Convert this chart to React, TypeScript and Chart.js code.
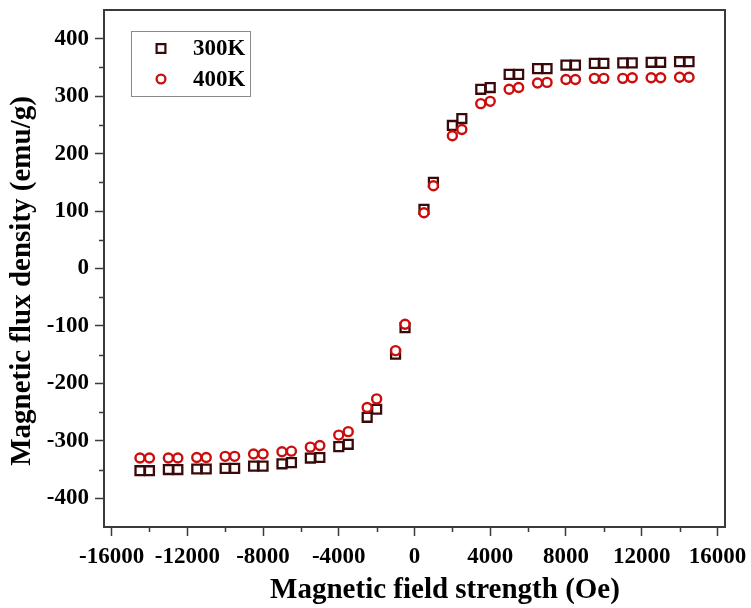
import React, { useEffect, useRef } from "react";
import { Chart, registerables } from "chart.js";

Chart.register(...registerables);

const fieldOe = [
  -14500, -14000, -13000, -12500, -11500, -11000, -10000, -9500, -8500, -8000,
  -7000, -6500, -5500, -5000, -4000, -3500, -2500, -2000, -1000, -500,
  500, 1000, 2000, 2500, 3500, 4000, 5000, 5500, 6500, 7000,
  8000, 8500, 9500, 10000, 11000, 11500, 12500, 13000, 14000, 14500,
];

const flux300K = [
  -352, -352, -350, -350, -349, -349, -348, -348, -344, -344,
  -340, -338, -330, -329, -310, -306, -259, -245, -149, -103,
  103, 150, 249, 261, 312, 315, 338, 338, 348, 348,
  354, 354, 357, 357, 358, 358, 359, 359, 360, 360,
];

const flux400K = [
  -330, -330, -330, -330, -329, -329, -327, -327, -323, -323,
  -319, -318, -311, -308, -290, -284, -242, -227, -143, -97,
  97, 144, 231, 242, 287, 291, 312, 315, 323, 324,
  329, 329, 331, 331, 331, 332, 332, 332, 333, 333,
];

const seriesLabels = ["300K", "400K"];
const xTitle = "Magnetic field strength (Oe)";
const yTitle = "Magnetic flux density (emu/g)";
const xMajorTicks = [-16000, -12000, -8000, -4000, 0, 4000, 8000, 12000, 16000];
const xMinorTicks = [-14000, -10000, -6000, -2000, 2000, 6000, 10000, 14000];
const yMajorTicks = [-400, -300, -200, -100, 0, 100, 200, 300, 400];
const yMinorTicks = [-350, -250, -150, -50, 50, 150, 250, 350];

const SERIF = "'Liberation Serif', 'Times New Roman', serif";
const SQUARE_COLOR = "#3a0a0a";
const CIRCLE_COLOR = "#cc0d0d";
const AXIS_COLOR = "#3a3a3a";

const extrasPlugin = {
  id: "extras",
  afterDraw(chart: any) {
    const { ctx, chartArea } = chart;
    const xs = chart.scales.x;
    const ys = chart.scales.y;
    ctx.save();
    // top/right frame
    ctx.strokeStyle = AXIS_COLOR;
    ctx.lineWidth = 2;
    ctx.beginPath();
    ctx.moveTo(chartArea.left, chartArea.top);
    ctx.lineTo(chartArea.right, chartArea.top);
    ctx.lineTo(chartArea.right, chartArea.bottom);
    ctx.stroke();
    // minor ticks
    ctx.lineWidth = 1.5;
    ctx.beginPath();
    xMinorTicks.forEach((v) => {
      const px = Math.round(xs.getPixelForValue(v)) + 0.5;
      ctx.moveTo(px, chartArea.bottom);
      ctx.lineTo(px, chartArea.bottom + 5);
    });
    yMinorTicks.forEach((v) => {
      const py = Math.round(ys.getPixelForValue(v)) + 0.5;
      ctx.moveTo(chartArea.left, py);
      ctx.lineTo(chartArea.left - 5, py);
    });
    ctx.stroke();

    // axis titles
    ctx.fillStyle = "#000000";
    ctx.font = `bold 29px ${SERIF}`;
    ctx.textAlign = "center";
    ctx.textBaseline = "middle";
    ctx.fillText(xTitle, 445, 591);
    ctx.save();
    ctx.translate(23, 281);
    ctx.rotate(-Math.PI / 2);
    ctx.fillText(yTitle, 0, 0);
    ctx.restore();

    // legend box
    const x0 = chartArea.left + 27;
    const y0 = chartArea.top + 21;
    const w = 119;
    const h = 65;
    ctx.strokeStyle = "#8a8a8a";
    ctx.lineWidth = 1;
    ctx.strokeRect(x0 + 0.5, y0 + 0.5, w, h);
    const mx = x0 + 30;
    const rows = [y0 + 17.5, y0 + 48];
    ctx.lineWidth = 2.2;
    ctx.strokeStyle = SQUARE_COLOR;
    ctx.fillStyle = "#ffffff";
    const s = 4.4;
    ctx.beginPath();
    ctx.rect(mx - s, rows[0] - s, 2 * s, 2 * s);
    ctx.fill();
    ctx.stroke();
    ctx.strokeStyle = CIRCLE_COLOR;
    ctx.lineWidth = 2.3;
    ctx.beginPath();
    ctx.arc(mx, rows[1], 4.4, 0, Math.PI * 2);
    ctx.fill();
    ctx.stroke();
    ctx.fillStyle = "#000000";
    ctx.font = `bold 23px ${SERIF}`;
    ctx.textBaseline = "middle";
    ctx.textAlign = "left";
    ctx.fillText(seriesLabels[0], x0 + 62, rows[0] + 1);
    ctx.fillText(seriesLabels[1], x0 + 62, rows[1] + 1);
    ctx.restore();
  },
};

export default function App() {
  const canvasRef = useRef<HTMLCanvasElement | null>(null);

  useEffect(() => {
    document.body.style.margin = "0";
    const canvas = canvasRef.current;
    if (!canvas) return;
    const chart = new Chart(canvas, {
      type: "scatter",
      data: {
        datasets: [
          {
            label: seriesLabels[0],
            data: fieldOe.map((x, i) => ({ x, y: flux300K[i] })),
            pointStyle: "rect",
            pointRadius: 6.3,
            pointHoverRadius: 6.3,
            borderColor: SQUARE_COLOR,
            backgroundColor: "#ffffff",
            borderWidth: 2.3,
            order: 1,
          },
          {
            label: seriesLabels[1],
            data: fieldOe.map((x, i) => ({ x, y: flux400K[i] })),
            pointStyle: "circle",
            pointRadius: 4.5,
            pointHoverRadius: 4.5,
            borderColor: CIRCLE_COLOR,
            backgroundColor: "#ffffff",
            borderWidth: 2.4,
            order: 0,
          },
        ],
      },
      options: {
        animation: false,
        responsive: true,
        maintainAspectRatio: false,
        events: [],
        layout: { padding: { top: 10, right: 26, left: 0, bottom: 0 } },
        plugins: {
          legend: { display: false },
          tooltip: { enabled: false },
        },
        scales: {
          x: {
            type: "linear",
            min: -16400,
            max: 16400,
            afterBuildTicks: (scale: any) => {
              scale.ticks = xMajorTicks.map((v) => ({ value: v }));
            },
            afterFit: (scale: any) => {
              scale.height = 81;
              scale.paddingLeft = 0;
              scale.paddingRight = 0;
            },
            border: { display: true, color: AXIS_COLOR, width: 2 },
            grid: {
              drawOnChartArea: false,
              drawTicks: true,
              tickLength: 9,
              tickColor: AXIS_COLOR,
              tickWidth: 1.5,
            },
            ticks: {
              color: "#000",
              padding: 7,
              maxRotation: 0,
              autoSkip: false,
              font: { family: SERIF, size: 23, weight: "bold" },
              callback: (v: any) => String(v),
            },
          },
          y: {
            type: "linear",
            min: -450,
            max: 450,
            afterBuildTicks: (scale: any) => {
              scale.ticks = yMajorTicks.map((v) => ({ value: v }));
            },
            afterFit: (scale: any) => {
              scale.width = 104;
              scale.paddingTop = 0;
              scale.paddingBottom = 0;
            },
            border: { display: true, color: AXIS_COLOR, width: 2 },
            grid: {
              drawOnChartArea: false,
              drawTicks: true,
              tickLength: 9,
              tickColor: AXIS_COLOR,
              tickWidth: 1.5,
            },
            ticks: {
              color: "#000",
              padding: 6,
              autoSkip: false,
              font: { family: SERIF, size: 23, weight: "bold" },
              callback: (v: any) => String(v),
            },
          },
        },
      },
      plugins: [extrasPlugin],
    });
    return () => chart.destroy();
  }, []);

  return (
    <div style={{ position: "absolute", left: 0, top: 0, width: 751, height: 608 }}>
      <canvas ref={canvasRef} />
    </div>
  );
}
